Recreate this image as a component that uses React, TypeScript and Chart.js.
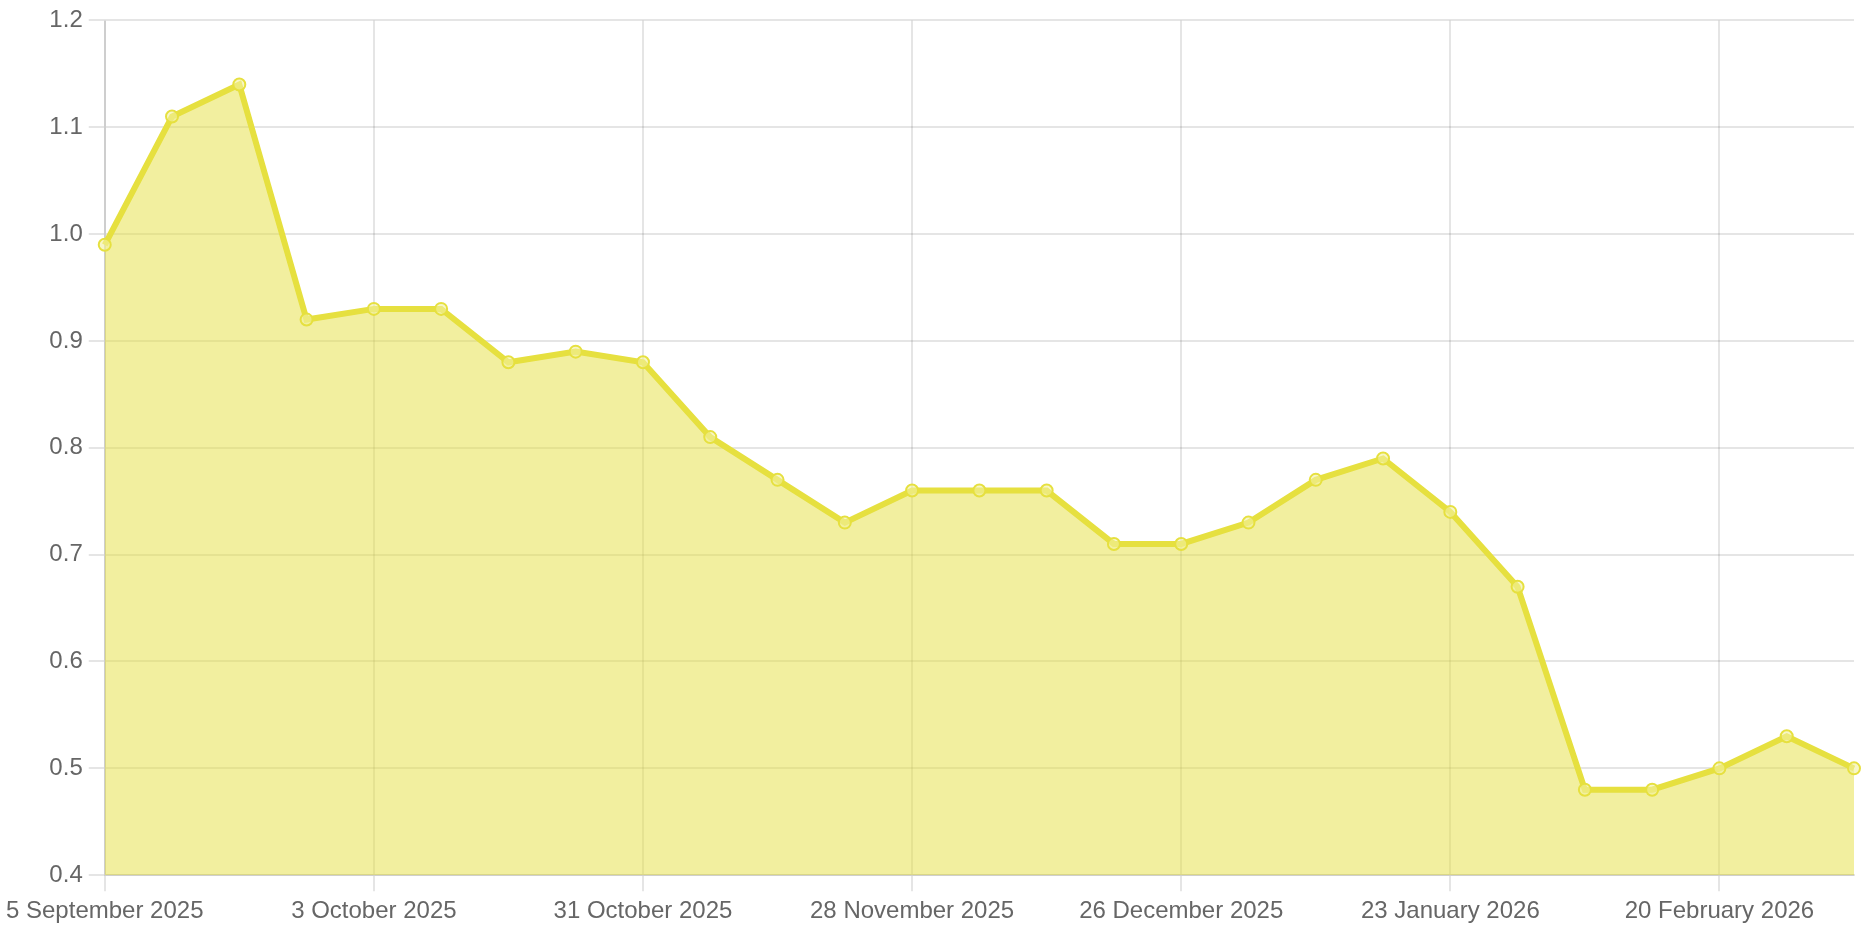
import React, { useEffect, useRef } from "react";
import { Chart, registerables } from "chart.js";

Chart.register(...registerables);

const weekLabels: string[] = [
  "5 September 2025", "12 September 2025", "19 September 2025", "26 September 2025",
  "3 October 2025", "10 October 2025", "17 October 2025", "24 October 2025",
  "31 October 2025", "7 November 2025", "14 November 2025", "21 November 2025",
  "28 November 2025", "5 December 2025", "12 December 2025", "19 December 2025",
  "26 December 2025", "2 January 2026", "9 January 2026", "16 January 2026",
  "23 January 2026", "30 January 2026", "6 February 2026", "13 February 2026",
  "20 February 2026", "27 February 2026", "6 March 2026",
];

const values: number[] = [
  0.99, 1.11, 1.14, 0.92, 0.93, 0.93, 0.88, 0.89, 0.88, 0.81, 0.77, 0.73, 0.76, 0.76,
  0.76, 0.71, 0.71, 0.73, 0.77, 0.79, 0.74, 0.67, 0.48, 0.48, 0.5, 0.53, 0.5,
];

const yMin = 0.4;
const yMax = 1.2;
const yStep = 0.1;
const labelEvery = 4;

const LINE = "rgb(230, 224, 63)";
const FILL = "rgba(230, 224, 63, 0.5)";
const POINT_FILL = "rgba(242, 240, 160, 0.6)";

export default function App() {
  const ref = useRef<HTMLCanvasElement | null>(null);
  useEffect(() => {
    document.body.style.margin = "0";
    if (!ref.current) return;
    const chart = new Chart(ref.current, {
      type: "line",
      data: {
        labels: weekLabels,
        datasets: [
          {
            data: values,
            borderColor: LINE,
            backgroundColor: FILL,
            fill: "origin",
            borderWidth: 6,
            pointRadius: 6,
            pointBorderWidth: 2,
            pointBackgroundColor: POINT_FILL,
            pointBorderColor: LINE,
            tension: 0,
          },
        ],
      },
      options: {
        animation: false,
        responsive: false,
        maintainAspectRatio: false,
        plugins: { legend: { display: false }, tooltip: { enabled: false } },
        layout: { padding: { top: 8, right: 10, left: 0, bottom: 0 } },
        scales: {
          x: {
            grid: { color: "rgba(0,0,0,0.1)", lineWidth: 2, tickLength: 16 },
            border: { color: "rgba(0,0,0,0.1)", width: 2 },
            ticks: {
              color: "#666",
              font: { size: 24, family: "'Liberation Sans', Arial, sans-serif" },
              padding: 6,
              maxRotation: 0,
              autoSkip: false,
              callback: (_v: any, i: number) => (i % labelEvery === 0 ? weekLabels[i] : null),
            },
          },
          y: {
            min: yMin,
            max: yMax,
            grid: { color: "rgba(0,0,0,0.1)", lineWidth: 2, tickLength: 16 },
            border: { color: "rgba(0,0,0,0.1)", width: 2 },
            ticks: {
              stepSize: yStep,
              color: "#666",
              font: { size: 24, family: "'Liberation Sans', Arial, sans-serif" },
              padding: 6,
              callback: (v: any) => Number(v).toFixed(1),
            },
          },
        },
      },
    });
    return () => chart.destroy();
  }, []);
  return (
    <div style={{ position: "absolute", left: 0, top: 0, width: 1864, height: 932 }}>
      <canvas ref={ref} width={1864} height={932} style={{ width: 1864, height: 932 }} />
    </div>
  );
}
